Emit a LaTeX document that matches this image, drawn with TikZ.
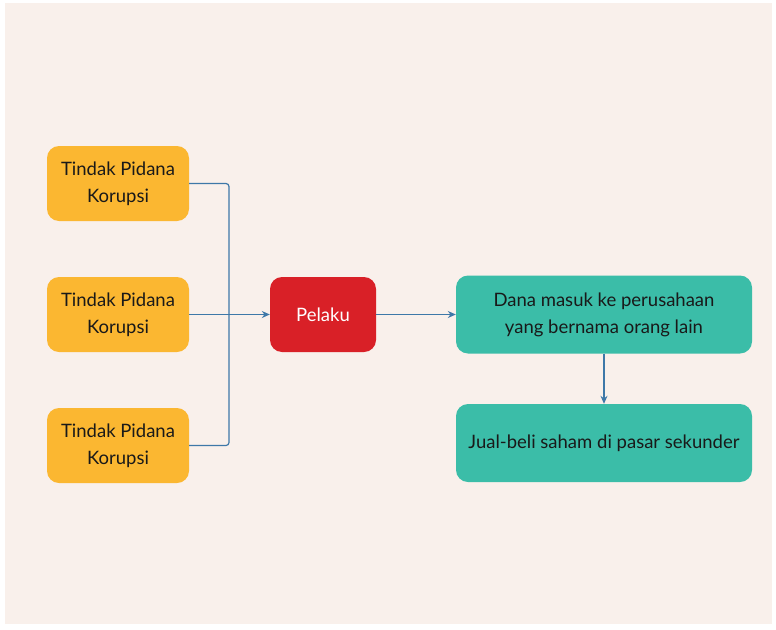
\documentclass[tikz,border=0pt]{standalone}
\usepackage{fontspec}
\setmainfont{Lato}
\usetikzlibrary{arrows.meta}
\definecolor{pagebg}{HTML}{F9F0EB}
\definecolor{crimeorange}{HTML}{FBB731}
\definecolor{actorred}{HTML}{D92027}
\definecolor{flowteal}{HTML}{3BBDA8}
\definecolor{linkblue}{HTML}{3E78A8}
\tikzset{
  box/.style={rounded corners=12pt, inner sep=0pt, align=center, font=\fontsize{18.5}{27}\selectfont},
  crimebox/.style={box, fill=crimeorange, minimum width=142pt, minimum height=75pt, text=black!90},
  actorbox/.style={box, fill=actorred, minimum width=106pt, minimum height=75pt, text=white},
  flowbox/.style={box, fill=flowteal, minimum width=296pt, minimum height=78pt, text=black!90},
  link/.style={draw=linkblue, line width=1.2pt, rounded corners=3pt},
  linkarrow/.style={link, -{Stealth[length=8pt,width=7pt]}}
}
\begin{document}
\begin{tikzpicture}[x=1pt,y=-1pt]
\useasboundingbox (0,0) rectangle (776,629);
\fill[white] (0,0) rectangle (776,629);
\fill[pagebg] (5,3) rectangle (772,624);

\node[crimebox] (c1) at (118,183.5) {Tindak Pidana\\Korupsi};
\node[crimebox] (c2) at (118,314.5) {Tindak Pidana\\Korupsi};
\node[crimebox] (c3) at (118,445.5) {Tindak Pidana\\Korupsi};
\node[actorbox] (p) at (323,314.5) {Pelaku};
\node[flowbox] (f1) at (604,314.5) {Dana masuk ke perusahaan\\yang bernama orang lain};
\node[flowbox] (f2) at (604,443) {Jual-beli saham di pasar sekunder};

\coordinate (join) at (229,314.5);
\draw[link] (c1.east) -| (join);
\draw[link] (c3.east) -| (join);
\draw[linkarrow] (c2.east) -- (p.west);
\draw[linkarrow] (p.east) -- (f1.west);
\draw[linkarrow] (f1.south) -- (f2.north);
\end{tikzpicture}
\end{document}
